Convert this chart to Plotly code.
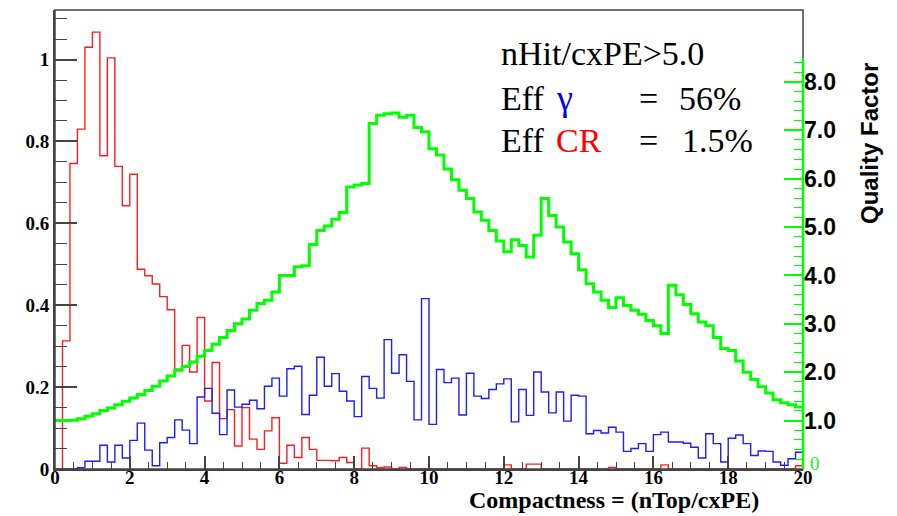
import numpy as np
import plotly.graph_objects as go

# ---- binning (ROOT-style histogram, 100 bins on [0, 20]) ----
BIN_LO, BIN_HI, N_BINS = 0.0, 20.0, 100

# ---- series values (per bin) ----
cr_values = [0, 0.313, 0.746, 0.830, 1.030, 1.067, 0.765, 1.004, 0.739, 0.643,
             0.720, 0.488, 0.472, 0.452, 0.421, 0.389, 0.244, 0.302, 0.237, 0.370,
             0.166, 0.260, 0.123, 0.145, 0.056, 0.150, 0.073, 0.048, 0.093, 0.125,
             0.014, 0.058, 0.028, 0.077, 0.048, 0.021, 0.021, 0.020, 0.028, 0.016,
             0.0, 0.051, 0.008, 0.003, 0.005, 0.0, 0.004, 0, 0, 0,
             0, 0, 0, 0, 0, 0, 0, 0, 0, 0,
             0.010, 0, 0, 0.012, 0.012, 0, 0, 0, 0, 0,
             0, 0, 0, 0, 0.004, 0, 0, 0, 0, 0,
             0, 0.010, 0, 0, 0, 0, 0, 0, 0, 0,
             0, 0, 0, 0, 0, 0, 0, 0, 0, 0.008]

gamma_values = [0, 0, 0, 0.003, 0.019, 0.019, 0.058, 0.017, 0.058, 0.027,
                0.070, 0.112, 0.046, 0.008, 0.064, 0.077, 0.120, 0.095, 0.062, 0.176,
                0.197, 0.136, 0.084, 0.193, 0.151, 0.158, 0.168, 0.147, 0.202, 0.222,
                0.178, 0.245, 0.251, 0.133, 0.180, 0.273, 0.202, 0.233, 0.190, 0.166,
                0.128, 0.226, 0.197, 0.173, 0.316, 0.234, 0.279, 0.214, 0.120, 0.416,
                0.109, 0.243, 0.211, 0.222, 0.132, 0.234, 0.178, 0.172, 0.194, 0.208,
                0.220, 0.115, 0.194, 0.131, 0.237, 0.188, 0.137, 0.188, 0.117, 0.180,
                0.178, 0.086, 0.094, 0.088, 0.102, 0.090, 0.043, 0.050, 0.062, 0.043,
                0.084, 0.090, 0.066, 0.066, 0.063, 0.053, 0.027, 0.086, 0.062, 0.017,
                0.075, 0.083, 0.062, 0.033, 0.044, 0.043, 0.017, 0.009, 0.025, 0.041]

quality_values = [1.00, 1.00, 1.01, 1.04, 1.09, 1.14, 1.21, 1.26, 1.33, 1.40,
                  1.47, 1.54, 1.62, 1.71, 1.82, 1.92, 2.04, 2.12, 2.21, 2.33,
                  2.45, 2.58, 2.72, 2.86, 3.00, 3.10, 3.28, 3.42, 3.49, 3.66,
                  4.00, 4.00, 4.18, 4.20, 4.64, 4.93, 5.02, 5.16, 5.30, 5.83,
                  5.87, 5.90, 7.14, 7.31, 7.34, 7.36, 7.27, 7.31, 7.06, 6.97,
                  6.62, 6.49, 6.20, 5.98, 5.76, 5.59, 5.31, 5.14, 4.93, 4.71,
                  4.49, 4.74, 4.62, 4.38, 4.83, 5.59, 5.24, 5.00, 4.69, 4.45,
                  4.12, 3.83, 3.66, 3.49, 3.34, 3.54, 3.38, 3.28, 3.20, 3.07,
                  2.96, 2.80, 3.80, 3.60, 3.40, 3.21, 3.04, 2.96, 2.72, 2.49,
                  2.45, 2.23, 2.00, 1.85, 1.70, 1.57, 1.43, 1.37, 1.33, 1.28]

# ---- tick labels ----
x_tickvals = [0, 2, 4, 6, 8, 10, 12, 14, 16, 18, 20]
x_ticktext = ["0", "2", "4", "6", "8", "10", "12", "14", "16", "18", "20"]
y_tickvals = [0, 0.2, 0.4, 0.6, 0.8, 1.0]
y_ticktext = ["0", "0.2", "0.4", "0.6", "0.8", "1"]
y2_tickvals = [0, 1, 2, 3, 4, 5, 6, 7, 8]
y2_ticktext = ["", "1.0", "2.0", "3.0", "4.0", "5.0", "6.0", "7.0", "8.0"]

# ---- layout geometry (pixels of the 897x516 canvas) ----
W, H = 897, 516
L, R, T, B = 55, 94, 10, 47
PW, PH = W - L - R, H - T - B


def px_x(px):
    return (px - L) / PW


def px_y(py):
    return (H - B - py) / PH


edges = np.linspace(BIN_LO, BIN_HI, N_BINS + 1)


def step_y(vals):
    return list(vals) + [vals[-1]]


SERIF = "Liberation Serif, Times New Roman, serif"
SANS = "Liberation Sans, Arial, sans-serif"
GREEN = "#00ff00"

fig = go.Figure()
fig.add_trace(go.Scatter(x=edges, y=step_y(cr_values), mode="lines",
                         line=dict(color="rgb(255,30,30)", width=1.4, shape="hv"),
                         hoverinfo="skip", showlegend=False))
fig.add_trace(go.Scatter(x=edges, y=step_y(gamma_values), mode="lines",
                         line=dict(color="rgb(30,30,255)", width=1.4, shape="hv"),
                         hoverinfo="skip", showlegend=False))
fig.add_trace(go.Scatter(x=edges, y=step_y(quality_values), mode="lines", yaxis="y2",
                         line=dict(color=GREEN, width=3, shape="hv"),
                         hoverinfo="skip", showlegend=False))

y_top = 1.121
y2_top = y_top * 409 / 48.33

minor_y2 = [round(0.2 * k, 1) for k in range(0, 43) if k % 5 != 0]

fig.update_layout(
    width=W, height=H,
    margin=dict(l=L, r=R, t=T, b=B),
    paper_bgcolor="white", plot_bgcolor="white",
    xaxis=dict(range=[BIN_LO, BIN_HI], showgrid=False, zeroline=False,
               showline=True, linecolor="#444", linewidth=2,
               ticks="inside", ticklen=13, tickwidth=1.5, tickcolor="#444",
               tickmode="array", tickvals=x_tickvals, ticktext=x_ticktext,
               ticklabelstandoff=-10,
               tickfont=dict(family=SERIF, size=19, color="black", weight="bold"),
               minor=dict(ticks="inside", dtick=0.5, ticklen=7, tickwidth=1.2,
                          tickcolor="#444", showgrid=False)),
    yaxis=dict(range=[0, y_top], showgrid=False, zeroline=False,
               showline=True, linecolor="#444", linewidth=2,
               ticks="inside", ticklen=22, tickwidth=1.5, tickcolor="#444",
               tickmode="array", tickvals=y_tickvals, ticktext=y_ticktext,
               tickfont=dict(family=SERIF, size=19, color="black", weight="bold"),
               minor=dict(ticks="inside", dtick=0.05, ticklen=12, tickwidth=1.2,
                          tickcolor="#444", showgrid=False)),
    yaxis2=dict(range=[0, y2_top], overlaying="y", side="right",
                showgrid=False, zeroline=False, showline=False,
                ticks="inside", ticklen=19, tickwidth=1.5, tickcolor=GREEN,
                tickmode="array", tickvals=y2_tickvals, ticktext=y2_ticktext,
                tickfont=dict(family=SANS, size=23, color="black", weight="bold"),
                minor=dict(ticks="inside", tickmode="array", tickvals=minor_y2,
                           ticklen=9, tickwidth=1.2, tickcolor=GREEN, showgrid=False)),
    shapes=[
        dict(type="rect", xref="paper", yref="paper", x0=0, x1=1, y0=0, y1=1,
             line=dict(color="#444", width=1.5), layer="above"),
        dict(type="line", xref="paper", yref="y2", x0=1, x1=1, y0=0, y1=8.5,
             line=dict(color=GREEN, width=2.5), layer="above"),
    ],
)

ann = []
FS = 34
# text block
ann.append(dict(text="nHit/cxPE>5.0", x=px_x(499), y=px_y(53), font=dict(family=SERIF, size=FS, color="black")))
ann.append(dict(text="Eff", x=px_x(499), y=px_y(98), font=dict(family=SERIF, size=FS, color="black")))
ann.append(dict(text="γ", x=px_x(554), y=px_y(98), font=dict(family=SERIF, size=FS + 2, color="blue")))
ann.append(dict(text="=", x=px_x(637), y=px_y(98), font=dict(family=SERIF, size=FS, color="black")))
ann.append(dict(text="56%", x=px_x(677), y=px_y(98), font=dict(family=SERIF, size=FS, color="black")))
ann.append(dict(text="Eff", x=px_x(499), y=px_y(141), font=dict(family=SERIF, size=FS, color="black")))
ann.append(dict(text="CR", x=px_x(554), y=px_y(141), font=dict(family=SERIF, size=FS, color="red")))
ann.append(dict(text="=", x=px_x(637), y=px_y(141), font=dict(family=SERIF, size=FS, color="black")))
ann.append(dict(text="1.5%", x=px_x(680), y=px_y(141), font=dict(family=SERIF, size=FS, color="black")))
for a in ann:
    a.update(xref="paper", yref="paper", xanchor="left", yanchor="middle", showarrow=False)

ann.append(dict(text="Quality Factor", xref="paper", yref="paper", x=px_x(869), y=px_y(143),
                xanchor="center", yanchor="middle", textangle=-90, showarrow=False,
                font=dict(family=SANS, size=24, color="black", weight="bold")))
ann.append(dict(text="0", xref="paper", yref="paper", x=px_x(808), y=px_y(463),
                xanchor="left", yanchor="middle", showarrow=False,
                font=dict(family=SERIF, size=19, color="#22ee22")))
ann.append(dict(text="Compactness = (nTop/cxPE)", xref="paper", yref="paper",
                x=px_x(614), y=px_y(500), xanchor="center", yanchor="middle", showarrow=False,
                font=dict(family=SERIF, size=24, color="black", weight="bold")))

fig.update_layout(annotations=ann)
fig.write_html("out.html")
